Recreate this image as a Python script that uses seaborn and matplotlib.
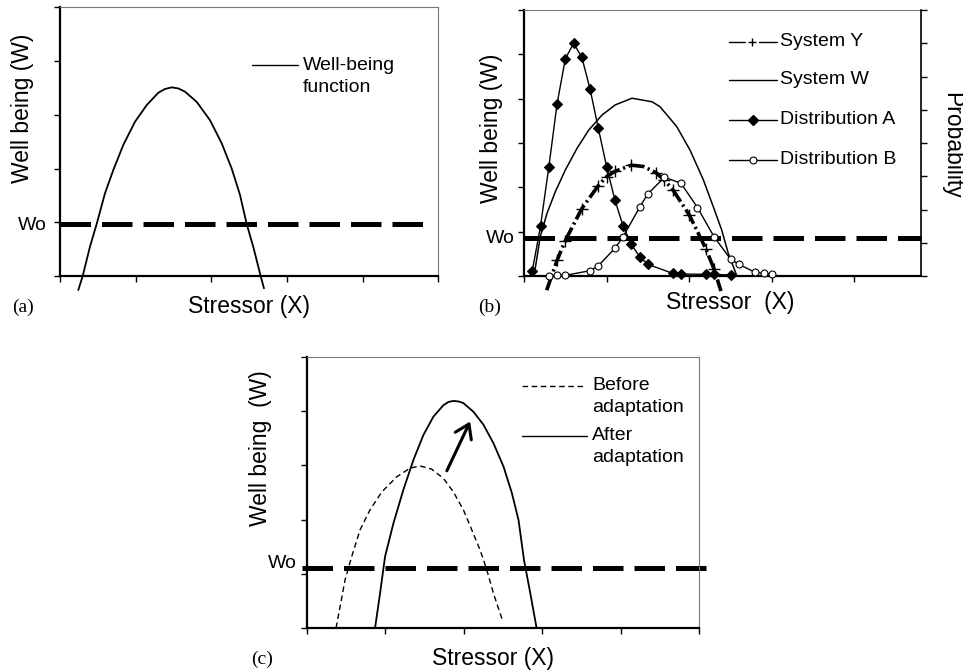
import matplotlib
matplotlib.use("Agg")
import matplotlib.pyplot as plt
from matplotlib.lines import Line2D
import seaborn as sns

# ------------------------------------------------------------------ data
# panel (a): well-being function
a_stress = [0.242, 0.300, 0.396, 0.485, 0.595, 0.704, 0.837, 0.991, 1.146, 1.299,
            1.388, 1.476, 1.564, 1.652, 1.807, 1.982, 2.137, 2.269, 2.379, 2.467,
            2.554, 2.652, 2.696]
a_well = [-0.26, 0.0, 0.545, 0.97, 1.54, 1.97, 2.44, 2.87, 3.18, 3.41,
          3.48, 3.51, 3.49, 3.43, 3.24, 2.90, 2.47, 2.00, 1.51, 0.97,
          0.545, 0.0, -0.23]
a_wo = 0.97
a_wo_span = [0.0, 4.8]

# panel (b)
b_sysW_x = [0.130, 0.197, 0.278, 0.379, 0.50, 0.642, 0.783, 0.944, 1.105, 1.307,
            1.55, 1.646, 1.849, 2.01, 2.171, 2.292, 2.393, 2.473, 2.577]
b_sysW_w = [0.10, 0.89, 1.41, 1.90, 2.39, 2.88, 3.29, 3.63, 3.86, 4.01,
            3.93, 3.82, 3.37, 2.84, 2.17, 1.56, 1.04, 0.51, 0.0]
b_sysY_x = [0.275, 0.40, 0.50, 0.70, 0.90, 1.00, 1.10, 1.30, 1.445, 1.60, 1.70,
            1.80, 2.00, 2.20, 2.30, 2.385]
b_sysY_w = [-0.32, 0.35, 0.80, 1.52, 2.04, 2.24, 2.36, 2.50, 2.47, 2.33, 2.16,
            1.95, 1.38, 0.62, 0.16, -0.34]
b_sysY_marked = [1, 2, 3, 4, 5, 6, 7, 9, 10, 11, 12, 13, 14]
b_distA_x = [0.1, 0.2, 0.3, 0.4, 0.5, 0.6, 0.7, 0.8, 0.9, 1.0, 1.1, 1.2, 1.3, 1.4,
             1.5, 1.8, 1.9, 2.2, 2.3, 2.5]
b_distA_p = [0.15, 1.50, 3.27, 5.17, 6.53, 7.00, 6.58, 5.62, 4.44, 3.29, 2.29, 1.50,
             0.95, 0.58, 0.35, 0.08, 0.06, 0.05, 0.05, 0.03]
b_distB_x = [0.3, 0.4, 0.5, 0.8, 0.9, 1.1, 1.2, 1.4, 1.5, 1.7, 1.9, 2.1, 2.3, 2.5,
             2.6, 2.8, 2.9, 3.0]
b_distB_p = [0.0, 0.02, 0.02, 0.16, 0.31, 0.83, 1.18, 2.07, 2.47, 2.97, 2.79, 2.06,
             1.18, 0.51, 0.35, 0.11, 0.08, 0.06]
b_wo = 0.86
b_wo_span = [0.0, 4.8]

# panel (c)
c_before_x = [0.374, 0.425, 0.489, 0.574, 0.68, 0.807, 0.957, 1.148, 1.318, 1.445,
              1.594, 1.742, 1.87, 1.997, 2.104, 2.21, 2.296, 2.38, 2.50]
c_before_w = [0.0, 0.39, 0.89, 1.32, 1.81, 2.18, 2.51, 2.79, 2.95, 2.99,
              2.93, 2.76, 2.51, 2.18, 1.81, 1.44, 1.07, 0.64, 0.12]
c_after_x = [0.871, 0.935, 0.999, 1.105, 1.232, 1.36, 1.487, 1.615, 1.742, 1.806,
             1.87, 1.934, 1.997, 2.125, 2.253, 2.38, 2.508, 2.615, 2.70, 2.77,
             2.85, 2.93]
c_after_w = [0.0, 0.64, 1.32, 1.93, 2.55, 3.10, 3.56, 3.90, 4.11, 4.17,
             4.19, 4.18, 4.15, 3.99, 3.75, 3.41, 2.98, 2.49, 1.99, 1.25,
             0.64, 0.0]
c_wo = 1.10
c_wo_span = [-0.06, 5.1]
c_arrow_from = (1.786, 2.90)
c_arrow_to = (2.083, 3.81)

# labels
ylab = "Well being (W)"
ylab_c = "Well being  (W)"
xlab = "Stressor (X)"
xlab_b = "Stressor  (X)"
wo_label = "Wo"
legend_a = ["Well-being", "function"]
legend_b = ["System Y", "System W", "Distribution A", "Distribution B"]
legend_c = [["Before", "adaptation"], ["After", "adaptation"]]

# ------------------------------------------------------------------ style
sns.set_theme(style="ticks")
plt.rcParams["font.family"] = ["Liberation Sans", "DejaVu Sans"]

W, H = 963, 672
fig = plt.figure(figsize=(W / 100, H / 100), dpi=100)
fig.patch.set_facecolor("white")

LAB = 16.5
SMALL = 14


def fx(px):
    return px / W


def fy(py):
    return 1 - py / H


def make_axes(l, t, r, b):
    ax = fig.add_axes([fx(l), fy(b), (r - l) / W, (b - t) / H])
    ax.set_facecolor("none")
    return ax


def ftext(px, py, s, **kw):
    kw.setdefault("fontsize", SMALL)
    kw.setdefault("color", "black")
    fig.text(fx(px), fy(py), s, **kw)


def fline(x0, x1, y, **kw):
    kw.setdefault("color", "black")
    kw.setdefault("lw", 1.0)
    fig.add_artist(Line2D([fx(x0), fx(x1)], [fy(y), fy(y)],
                          transform=fig.transFigure, **kw))


def style_axes(ax, right_visible=True):
    for s in ["left", "bottom"]:
        ax.spines[s].set_color("black")
        ax.spines[s].set_linewidth(1.6)
    ax.spines["top"].set_color("#777777")
    ax.spines["top"].set_linewidth(0.8)
    ax.spines["right"].set_color("#777777")
    ax.spines["right"].set_linewidth(0.8)
    ax.spines["right"].set_visible(right_visible)
    ax.tick_params(axis="both", direction="out", length=4.5, width=1.0,
                   color="black", labelleft=False, labelbottom=False)
    ax.set_xlabel("")
    ax.set_ylabel("")


def wo_line(ax, span, wo):
    ax.plot(span, [wo, wo], color="black", lw=3.6, dashes=(6.1, 2.2),
            dash_capstyle="butt", clip_on=False, zorder=1)


# ------------------------------------------------------------------ panel (a)
axa = make_axes(60, 7.3, 438.3, 276)
axa.set_xlim(0, 5)
axa.set_ylim(0, 5)
wo_line(axa, a_wo_span, a_wo)
sns.lineplot(x=a_stress, y=a_well, ax=axa, color="black", lw=1.3,
             sort=False, errorbar=None, clip_on=False)
axa.set_xticks(range(0, 6))
axa.set_yticks(range(0, 6))
style_axes(axa)

ftext(23, 108, ylab, fontsize=LAB, rotation=90, ha="center", va="center")
ftext(249, 307, xlab, fontsize=LAB, ha="center", va="center")
ftext(47, 225, wo_label, ha="right", va="center")
ftext(22.5, 307, "(a)", family="Liberation Serif", ha="center", va="center")
fline(252, 298, 65, lw=1.0)
ftext(303, 65, legend_a[0], ha="left", va="center")
ftext(303, 87, legend_a[1], ha="left", va="center")

# ------------------------------------------------------------------ panel (b)
axb = make_axes(524, 10, 921, 276)
axb.set_xlim(0, 4.806)
axb.set_ylim(0, 6)
wo_line(axb, b_wo_span, b_wo)
sns.lineplot(x=b_sysW_x, y=b_sysW_w, ax=axb, color="black", lw=1.1,
             sort=False, errorbar=None, clip_on=False)
sns.lineplot(x=b_sysY_x, y=b_sysY_w, ax=axb, color="black", lw=2.6,
             dashes=False, linestyle=(0, (4.5, 1.0, 0.6, 1.0)),
             marker="+", markersize=8, markeredgecolor="black",
             markeredgewidth=1.0, markevery=b_sysY_marked,
             sort=False, errorbar=None, clip_on=False)
axb.set_xticks(range(0, 5))
axb.set_yticks(range(0, 7))
style_axes(axb, right_visible=False)

axb2 = axb.twinx()
axb2.set_position(axb.get_position())
axb2.set_ylim(0, 8)
sns.lineplot(x=b_distA_x, y=b_distA_p, ax=axb2, color="black", lw=1.0,
             marker="D", markersize=5.5, markerfacecolor="black",
             markeredgecolor="black", markeredgewidth=0.8,
             sort=False, errorbar=None, clip_on=False)
sns.lineplot(x=b_distB_x, y=b_distB_p, ax=axb2, color="black", lw=1.0,
             marker="o", markersize=5, markerfacecolor="white",
             markeredgecolor="black", markeredgewidth=0.8,
             sort=False, errorbar=None, clip_on=False)
axb2.set_xlim(0, 4.806)
axb2.set_yticks(range(0, 9))
for s in ["left", "top", "bottom"]:
    axb2.spines[s].set_visible(False)
axb2.spines["right"].set_color("black")
axb2.spines["right"].set_linewidth(1.2)
axb2.tick_params(axis="y", direction="out", length=4.5, width=1.0,
                 color="black", labelright=False)
axb2.set_ylabel("")
axb2.set_xlabel("")

ftext(491, 128, ylab, fontsize=LAB, rotation=90, ha="center", va="center")
ftext(952, 145, "Probability", fontsize=LAB, rotation=270, ha="center", va="center")
ftext(730, 302, xlab_b, fontsize=LAB, ha="center", va="center")
ftext(515, 238, wo_label, ha="right", va="center")
ftext(489.5, 307, "(b)", family="Liberation Serif", ha="center", va="center")

# legend (b)
rows_b = [42, 80, 120, 160]
fline(729, 745, rows_b[0])
fline(759, 777, rows_b[0])
fig.add_artist(Line2D([fx(752)], [fy(rows_b[0])], transform=fig.transFigure,
                      marker="+", markersize=6, color="black", mew=1.0, ls="none"))
fline(729, 777, rows_b[1])
fline(729, 777, rows_b[2])
fig.add_artist(Line2D([fx(752.5)], [fy(rows_b[2])], transform=fig.transFigure,
                      marker="D", markersize=5.5, color="black", ls="none"))
fline(729, 777, rows_b[3])
fig.add_artist(Line2D([fx(752.5)], [fy(rows_b[3])], transform=fig.transFigure,
                      marker="o", markersize=5, mfc="white", mec="black",
                      mew=0.8, ls="none"))
for lab, yy in zip(legend_b, rows_b):
    ftext(780, yy, lab, ha="left", va="center")

# ------------------------------------------------------------------ panel (c)
axc = make_axes(306.7, 357, 699, 628)
axc.set_xlim(0, 5)
axc.set_ylim(0, 5)
wo_line(axc, c_wo_span, c_wo)
sns.lineplot(x=c_before_x, y=c_before_w, ax=axc, color="black", lw=1.0,
             dashes=False, linestyle=(0, (4.0, 2.6)),
             sort=False, errorbar=None, clip_on=False)
sns.lineplot(x=c_after_x, y=c_after_w, ax=axc, color="black", lw=1.3,
             sort=False, errorbar=None, clip_on=False)
axc.annotate("", xy=c_arrow_to, xytext=c_arrow_from,
             arrowprops=dict(arrowstyle="->,head_length=0.6,head_width=0.4",
                             lw=2.2, color="black", mutation_scale=16,
                             shrinkA=0, shrinkB=0))
axc.set_xticks(range(0, 6))
axc.set_yticks(range(0, 6))
style_axes(axc)

ftext(261, 448, ylab_c, fontsize=LAB, rotation=90, ha="center", va="center")
ftext(492.5, 658, xlab, fontsize=LAB, ha="center", va="center")
ftext(297, 563, wo_label, ha="right", va="center")
ftext(262.5, 659, "(c)", family="Liberation Serif", ha="center", va="center")

fline(521.7, 584, 386, lw=1.0, dashes=(4.0, 2.6))
ftext(592, 386, legend_c[0][0], ha="left", va="center")
ftext(592, 408, legend_c[0][1], ha="left", va="center")
fline(521.7, 586.7, 436, lw=1.0)
ftext(592, 436, legend_c[1][0], ha="left", va="center")
ftext(592, 458, legend_c[1][1], ha="left", va="center")

fig.savefig("out.png", dpi=100, facecolor="white")
